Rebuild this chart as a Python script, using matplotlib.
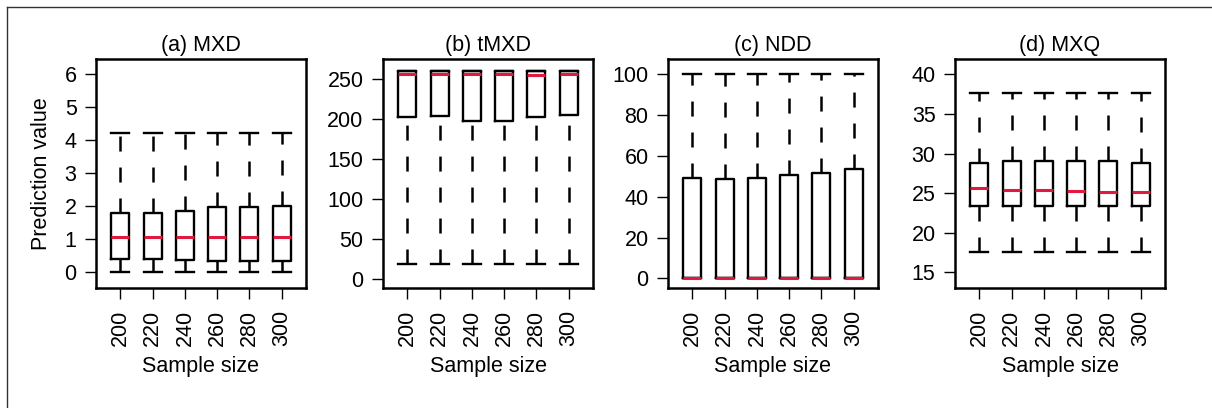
import matplotlib
matplotlib.use("Agg")
import matplotlib.pyplot as plt
from matplotlib.lines import Line2D

plt.rcParams['font.family'] = ['Liberation Sans', 'DejaVu Sans']
plt.rcParams['font.size'] = 15.5
plt.rcParams['lines.scale_dashes'] = False

# Sample sizes (x categories)
sizes = ['200', '220', '240', '260', '280', '300']

# Box statistics: low whisker, Q1, median, Q3, high whisker
mxd_low = [0, 0, 0, 0, 0, 0]
mxd_q1 = [0.42, 0.42, 0.38, 0.36, 0.36, 0.36]
mxd_med = [1.07, 1.07, 1.07, 1.07, 1.06, 1.07]
mxd_q3 = [1.79, 1.79, 1.86, 1.99, 1.99, 2.01]
mxd_high = [4.22, 4.22, 4.22, 4.22, 4.22, 4.22]

tmxd_low = [19, 19, 19, 19, 19, 19]
tmxd_q1 = [202.5, 204, 198, 198, 203, 205]
tmxd_med = [257, 257, 256, 256, 255, 257]
tmxd_q3 = [260, 260, 260, 260, 260, 260]
tmxd_high = [260, 260, 260, 260, 260, 260]

ndd_low = [0, 0, 0, 0, 0, 0]
ndd_q1 = [0, 0, 0, 0, 0, 0]
ndd_med = [0, 0, 0, 0, 0, 0]
ndd_q3 = [49, 48.5, 49, 50.6, 51.5, 53.5]
ndd_high = [100, 100, 100, 100, 100, 100]

mxq_low = [17.6, 17.6, 17.6, 17.6, 17.6, 17.6]
mxq_q1 = [23.4, 23.4, 23.4, 23.4, 23.4, 23.4]
mxq_med = [25.6, 25.4, 25.4, 25.3, 25.2, 25.2]
mxq_q3 = [28.85, 29.1, 29.1, 29.1, 29.1, 28.85]
mxq_high = [37.7, 37.7, 37.7, 37.7, 37.7, 37.7]

panels = [
    ('(a) MXD', (mxd_low, mxd_q1, mxd_med, mxd_q3, mxd_high), (-0.46, 6.45), range(0, 7)),
    ('(b) tMXD', (tmxd_low, tmxd_q1, tmxd_med, tmxd_q3, tmxd_high), (-10.5, 275), range(0, 251, 50)),
    ('(c) NDD', (ndd_low, ndd_q1, ndd_med, ndd_q3, ndd_high), (-4.6, 107.4), range(0, 101, 20)),
    ('(d) MXQ', (mxq_low, mxq_q1, mxq_med, mxq_q3, mxq_high), (13.05, 41.9), range(15, 41, 5)),
]

W, H = 1212, 408
fig = plt.figure(figsize=(W / 100, H / 100), dpi=100)

lefts = [96, 383, 668, 955]
bottom_px, top_px = 287.7, 59.3

for left, (title, st, ylim, yticks) in zip(lefts, panels):
    ax = fig.add_axes([left / W, 1 - bottom_px / H, 210 / W, (bottom_px - top_px) / H])
    low, q1, med, q3, high = st
    stats = [dict(whislo=a, q1=b, med=c, q3=d, whishi=e, label=s, fliers=[])
             for a, b, c, d, e, s in zip(low, q1, med, q3, high, sizes)]
    parts = ax.bxp(stats, positions=range(1, 7), widths=0.56, capwidths=0.56,
                   showfliers=False,
                   boxprops=dict(color='black', linewidth=1.7),
                   whiskerprops=dict(color='black', linewidth=1.8, linestyle=(0, (10.8, 11.5))),
                   capprops=dict(color='black', linewidth=1.7),
                   medianprops=dict(color='#e2183f', linewidth=2.2))
    # lower whiskers: start the dash pattern at the cap
    for w in parts['whiskers'][0::2]:
        w.set_data(w.get_xdata()[::-1], w.get_ydata()[::-1])
    ax.set_xlim(0.24, 6.76)
    ax.set_ylim(*ylim)
    ax.set_yticks(list(yticks))
    ax.set_xticks(range(1, 7))
    ax.set_xticklabels(sizes, rotation=90)
    ax.tick_params(length=8, width=1, direction='out', pad=6)
    ax.tick_params(axis='x', pad=8)
    for sp in ax.spines.values():
        sp.set_linewidth(1.8)
    ax.set_title(title, fontsize=15.5, pad=6)
    ax.set_xlabel('Sample size', fontsize=15.5, labelpad=7)
    if left == lefts[0]:
        ax.set_ylabel('Prediction value', fontsize=15.5, labelpad=9)

# thin frame on the left and top of the figure
fig.add_artist(Line2D([7 / W, 7 / W], [0, 1 - 7 / H], color='#333333', linewidth=1))
fig.add_artist(Line2D([7 / W, 1], [1 - 7 / H, 1 - 7 / H], color='#333333', linewidth=1))

fig.savefig('out.png', dpi=100)
